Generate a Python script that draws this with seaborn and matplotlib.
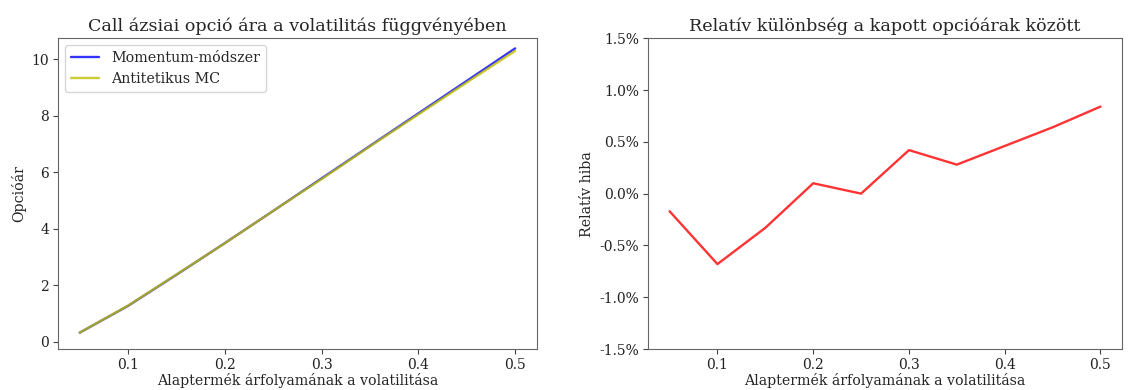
import pandas as pd
import seaborn as sns
import matplotlib.pyplot as plt
from matplotlib.ticker import PercentFormatter

# volatility grid and the two pricing results
volatility = [0.05, 0.10, 0.15, 0.20, 0.25, 0.30, 0.35, 0.40, 0.45, 0.50]
momentum_price = [0.33, 1.28, 2.38, 3.50, 4.64, 5.79, 6.94, 8.09, 9.24, 10.39]
antithetic_price = [0.331, 1.289, 2.388, 3.496, 4.64, 5.765, 6.921, 8.053, 9.182, 10.302]
# relative difference in percent
relative_diff = [-0.17, -0.68, -0.33, 0.10, 0.00, 0.42, 0.28, 0.46, 0.64, 0.84]

series_names = ['Momentum-módszer', 'Antitetikus MC']

sns.set_style('ticks')
plt.rcParams['font.family'] = ['DejaVu Serif']
plt.rcParams['axes.unicode_minus'] = False
plt.rcParams['axes.edgecolor'] = '#666666'
plt.rcParams['xtick.color'] = '#444444'
plt.rcParams['ytick.color'] = '#444444'
plt.rcParams['xtick.labelcolor'] = '#222222'
plt.rcParams['ytick.labelcolor'] = '#222222'

prices_df = pd.DataFrame({
    'vol': volatility * 2,
    'price': momentum_price + antithetic_price,
    'method': [series_names[0]] * len(volatility) + [series_names[1]] * len(volatility),
})
diff_df = pd.DataFrame({'vol': volatility, 'diff': relative_diff})

fig = plt.figure(figsize=(11.28, 3.9), dpi=100)
ax1 = fig.add_axes([0.0514, 0.105, 0.4246, 0.797])
ax2 = fig.add_axes([0.5745, 0.105, 0.4202, 0.797])

# left: option prices
sns.lineplot(data=prices_df, x='vol', y='price', hue='method', palette=['blue', 'y'],
             alpha=0.8, linewidth=1.7, ax=ax1)
ax1.set_ylim(-0.25, 10.75)
ax1.set_title('Call ázsiai opció ára a volatilitás függvényében', fontsize=12.6, pad=5)
ax1.set_xlabel('Alaptermék árfolyamának a volatilitása', fontsize=10.2, labelpad=1)
ax1.set_ylabel('Opcióár', fontsize=10.2)
ax1.tick_params(labelsize=10, pad=3)
ax1.legend(loc='upper left', fontsize=10.3, title=None)

# right: relative difference
sns.lineplot(data=diff_df, x='vol', y='diff', color='red', alpha=0.8, linewidth=1.7, ax=ax2)
ax2.set_ylim(-1.5, 1.5)
ax2.set_yticks([-1.5, -1.0, -0.5, 0.0, 0.5, 1.0, 1.5])
ax2.yaxis.set_major_formatter(PercentFormatter(xmax=100, decimals=1))
ax2.set_title('Relatív különbség a kapott opcióárak között', fontsize=12.6, pad=5)
ax2.set_xlabel('Alaptermék árfolyamának a volatilitása', fontsize=10.2, labelpad=1)
ax2.set_ylabel('Relatív hiba', fontsize=10.2)
ax2.tick_params(labelsize=10, pad=3)

fig.savefig('out.png', dpi=100)
